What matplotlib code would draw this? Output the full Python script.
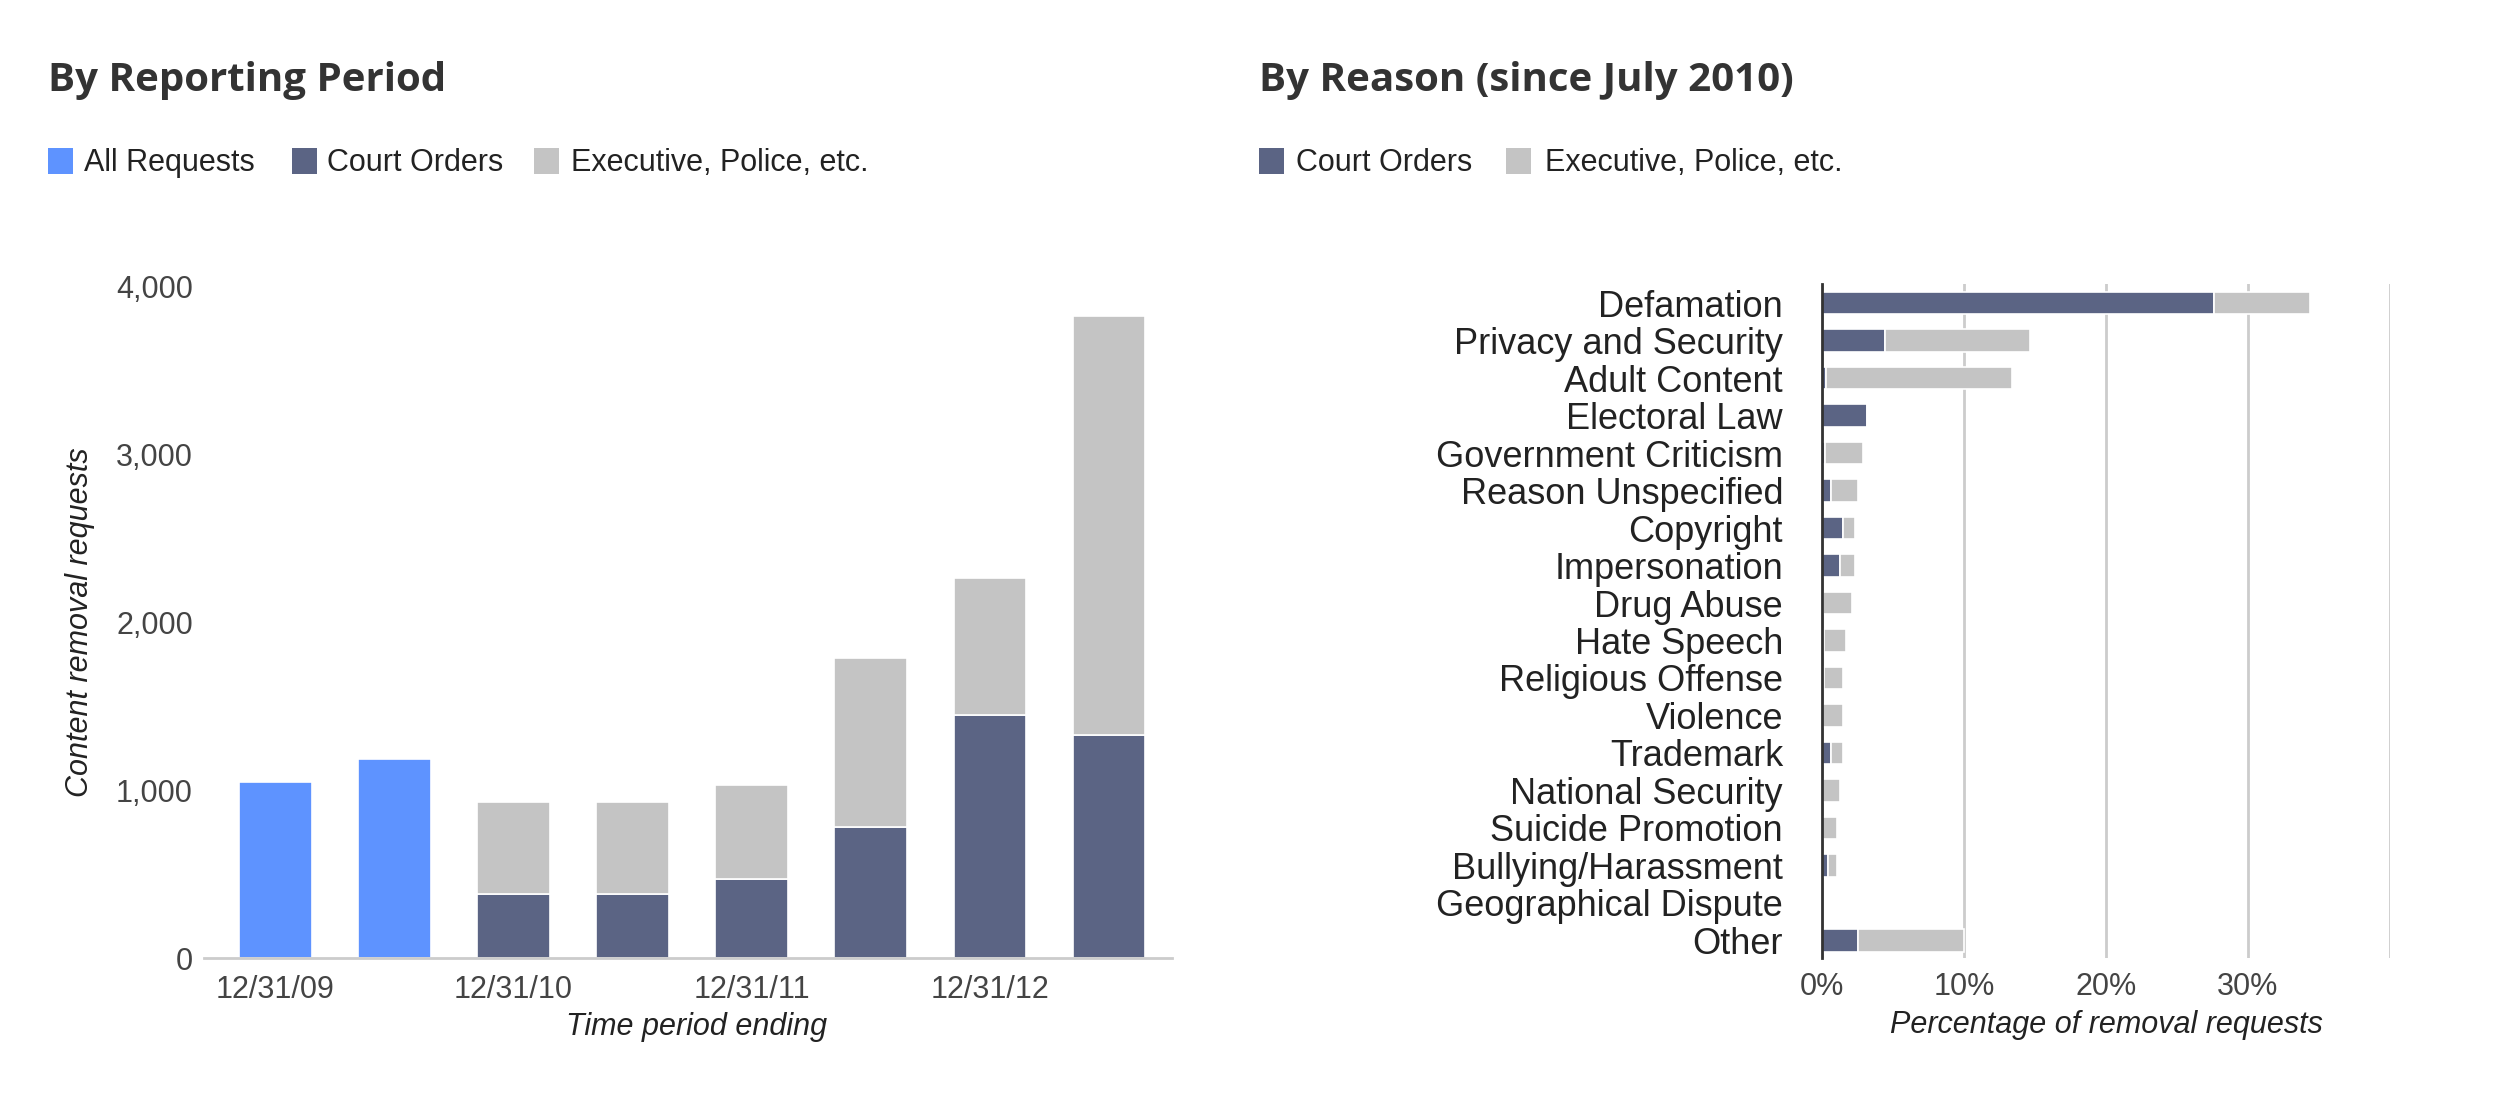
import numpy as np
import matplotlib
matplotlib.use("Agg")
import matplotlib.pyplot as plt
from matplotlib.patches import Rectangle

# ---------------- data ----------------
periods = ['12/31/09', '6/30/10', '12/31/10', '6/30/11', '12/31/11',
           '6/30/12', '12/31/12', '6/30/13']
shown_period_labels = ['12/31/09', '', '12/31/10', '', '12/31/11', '', '12/31/12', '']
all_requests = [1047, 1184, np.nan, np.nan, np.nan, np.nan, np.nan, np.nan]
court_period = [np.nan, np.nan, 382, 382, 473, 783, 1451, 1329]
exec_period = [np.nan, np.nan, 547, 547, 559, 1005, 816, 2501]

reasons = ['Defamation', 'Privacy and Security', 'Adult Content', 'Electoral Law',
           'Government Criticism', 'Reason Unspecified', 'Copyright', 'Impersonation',
           'Drug Abuse', 'Hate Speech', 'Religious Offense', 'Violence', 'Trademark',
           'National Security', 'Suicide Promotion', 'Bullying/Harassment',
           'Geographical Dispute', 'Other']
court_reason = [27.6, 4.45, 0.25, 3.15, 0.2, 0.65, 1.5, 1.3, 0.05, 0.15, 0.15, 0.0,
                0.65, 0.0, 0.0, 0.45, 0.0, 2.55]
exec_reason = [6.8, 10.2, 13.15, 0.1, 2.7, 1.85, 0.8, 1.0, 2.05, 1.55, 1.35, 1.5,
               0.85, 1.25, 1.05, 0.6, 0.0, 7.45]
pct_ticks = [0, 10, 20, 30, 40]
pct_labels = ['0%', '10%', '20%', '30%', '']

# ---------------- style ----------------
BLUE = '#5e93ff'
COURT = '#5b6484'
EXEC = '#c4c4c4'
W, H = 2500, 1111
SANS = ['Liberation Sans', 'DejaVu Sans']
TITLE = ['Open Sans', 'DejaVu Sans']

plt.rcParams['font.family'] = SANS

fig = plt.figure(figsize=(W / 100, H / 100), dpi=100)
fig.patch.set_facecolor('white')


def fx(px):
    return px / W


def fy(py):
    return 1 - py / H


# ---------------- left chart ----------------
axL = fig.add_axes([fx(204), fy(958), fx(1172) - fx(204), fy(287) - fy(958)])
x = np.arange(len(periods))
bw = 0.61
axL.bar(x, all_requests, width=bw, color=BLUE, edgecolor='white', linewidth=1.2)
axL.bar(x, court_period, width=bw, color=COURT, edgecolor='white', linewidth=1.2)
axL.bar(x, exec_period, width=bw, bottom=court_period, color=EXEC,
        edgecolor='white', linewidth=1.2)
axL.set_xlim(-0.6, 7.53)
axL.set_ylim(0, 4000)
axL.set_yticks([0, 1000, 2000, 3000, 4000])
axL.set_yticklabels(['0', '1,000', '2,000', '3,000', '4,000'])
axL.set_xticks(x)
axL.set_xticklabels(shown_period_labels)
axL.tick_params(axis='both', length=0, labelsize=22, labelcolor='#444444')
axL.tick_params(axis='x', pad=12)
axL.tick_params(axis='y', pad=8)
for s in ['top', 'right', 'left']:
    axL.spines[s].set_visible(False)
axL.spines['bottom'].set_color('#cccccc')
axL.spines['bottom'].set_linewidth(2)

fig.text(fx(80), fy(622), 'Content removal requests', rotation=90, style='italic',
         fontsize=22, color='#222222', ha='center', va='center')
fig.text(fx(697), fy(1027), 'Time period ending', style='italic',
         fontsize=22, color='#222222', ha='center', va='center')

# ---------------- right chart ----------------
axR = fig.add_axes([fx(1822), fy(958), fx(2390) - fx(1822), fy(284) - fy(958)])
y = np.arange(len(reasons))
bh = 0.6
axR.barh(y, court_reason, height=bh, color=COURT, edgecolor='white', linewidth=1.2)
axR.barh(y, exec_reason, height=bh, left=court_reason, color=EXEC,
         edgecolor='white', linewidth=1.2)
axR.set_xlim(0, 40)
axR.set_ylim(17.47, -0.51)
axR.set_xticks(pct_ticks)
axR.set_xticklabels(pct_labels)
axR.set_yticks(y)
axR.set_yticklabels(reasons)
axR.grid(axis='x', color='#cccccc', linewidth=2)
axR.set_axisbelow(True)
axR.tick_params(axis='both', length=0)
axR.tick_params(axis='x', labelsize=22, labelcolor='#444444', pad=10)
axR.tick_params(axis='y', labelsize=26, labelcolor='#222222', pad=28)
for s in ['top', 'right', 'bottom']:
    axR.spines[s].set_visible(False)
axR.spines['left'].set_color('#333333')
axR.spines['left'].set_linewidth(2)
axR.spines['left'].set_zorder(5)

fig.text(fx(2106), fy(1025), 'Percentage of removal requests', style='italic',
         fontsize=22, color='#222222', ha='center', va='center')

# ---------------- titles ----------------
fig.text(fx(48), fy(80), 'By Reporting Period', fontsize=29, fontweight='bold',
         family=TITLE, color='#333333', ha='left', va='center')
fig.text(fx(1259), fy(80), 'By Reason (since July 2010)', fontsize=29,
         fontweight='bold', family=TITLE, color='#333333', ha='left', va='center')

# ---------------- legends ----------------
def legend_item(x0, label, color, xtext):
    fig.add_artist(Rectangle((fx(x0), fy(174)), fx(25), fy(148) - fy(174),
                             transform=fig.transFigure, facecolor=color,
                             edgecolor='none'))
    fig.text(fx(xtext), fy(163), label, fontsize=22, color='#222222',
             ha='left', va='center')


legend_item(48, 'All Requests', BLUE, 84)
legend_item(292, 'Court Orders', COURT, 327)
legend_item(534, 'Executive, Police, etc.', EXEC, 571)
legend_item(1259, 'Court Orders', COURT, 1296)
legend_item(1506, 'Executive, Police, etc.', EXEC, 1545)

fig.savefig('out.png', dpi=100, facecolor='white')
